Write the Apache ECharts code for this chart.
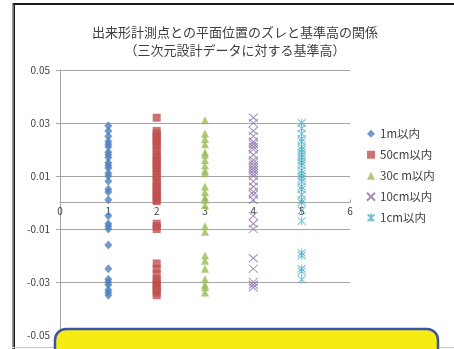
<!DOCTYPE html>
<html>
<head>
<meta charset="utf-8">
<script src="https://cdn.jsdelivr.net/npm/echarts@6/dist/echarts.min.js"></script>
<style>
html,body{margin:0;padding:0;background:#fff;}
#c{width:454px;height:349px;}
</style>
</head>
<body>
<div id="c"></div>
<script>
const titleLines = ['出来形計測点との平面位置のズレと基準高の関係', '（三次元設計データに対する基準高）'];
const seriesNames = ['1m以内', '50cm以内', '30c m以内', '10cm以内', '1cm以内'];
const seriesX = [1, 2, 3, 4, 5];
const values1m = [0.029, 0.027, 0.025, 0.023, 0.022, 0.021, 0.019, 0.018, 0.017, 0.015, 0.014, 0.013, 0.011, 0.010, 0.008, 0.005, 0.004, 0.001, -0.005, -0.008, -0.009, -0.010, -0.016, -0.025, -0.029, -0.030, -0.031, -0.033, -0.034, -0.035];
const values50cm = [0.032, 0.027, 0.026, 0.025, 0.024, 0.023, 0.022, 0.021, 0.0195, 0.018, 0.017, 0.016, 0.015, 0.014, 0.013, 0.012, 0.0105, 0.0095, 0.008, 0.007, 0.006, 0.005, 0.004, 0.003, 0.002, 0.001, 0.0005, -0.008, -0.009, -0.010, -0.023, -0.025, -0.027, -0.029, -0.030, -0.031, -0.032, -0.033, -0.034, -0.035];
const values30cm = [0.031, 0.026, 0.024, 0.022, 0.019, 0.018, 0.016, 0.014, 0.012, 0.011, 0.006, 0.004, 0.002, 0.001, -0.001, -0.009, -0.011, -0.020, -0.022, -0.025, -0.029, -0.031, -0.032, -0.034];
const values10cm = [0.032, 0.030, 0.027, 0.025, 0.023, 0.022, 0.021, 0.020, 0.018, 0.016, 0.015, 0.014, 0.013, 0.012, 0.011, 0.010, 0.008, 0.006, 0.004, 0.003, 0.001, -0.005, -0.008, -0.010, -0.021, -0.025, -0.030, -0.031, -0.032];
const values1cm = [0.030, 0.028, 0.026, 0.024, 0.023, 0.021, 0.020, 0.019, 0.018, 0.017, 0.016, 0.015, 0.014, 0.012, 0.011, 0.010, 0.009, 0.008, 0.006, 0.005, 0.003, 0.001, 0.0, -0.003, -0.007, -0.019, -0.020, -0.025, -0.026, -0.029];
const seriesValues = [values1m, values50cm, values30cm, values10cm, values1cm];

const FONT = '"Noto Sans CJK JP", "Noto Sans", sans-serif';
const colors = ['#4F81BD', '#C0504D', '#9BBB59', '#8064A2', '#4BACC6'];
const symbols = ['diamond', 'rect', 'triangle', 'path://M0,0L10,10M10,0L0,10', 'path://M0,0L10,10M10,0L0,10M5,-1L5,11'];
const sizes = [[8, 9], 8, 8, [9, 8], [8, 9]];

const series = seriesNames.map((name, i) => {
  const stroke = i >= 3;
  return {
    name: name,
    type: 'scatter',
    symbol: symbols[i],
    symbolSize: sizes[i],
    data: seriesValues[i].map(v => [seriesX[i], v]),
    itemStyle: stroke
      ? { color: 'rgba(0,0,0,0)', borderColor: colors[i], borderWidth: 1, opacity: 0.75 }
      : { color: colors[i] },
    emphasis: { disabled: true },
    z: 3
  };
});

const chart = echarts.init(document.getElementById('c'), null, { renderer: 'canvas' });
chart.setOption({
  animation: false,
  backgroundColor: '#ffffff',
  textStyle: { fontFamily: FONT },
  title: {
    text: titleLines.join('\n'),
    left: 230,
    top: 18,
    textAlign: 'center',
    textStyle: { fontFamily: FONT, fontSize: 13, fontWeight: 'normal', color: '#404040', lineHeight: 18 }
  },
  legend: {
    orient: 'vertical',
    left: 361,
    top: 123,
    itemWidth: 8,
    itemHeight: 8,
    itemGap: 9.5,
    textStyle: { fontFamily: FONT, fontSize: 11.5, color: '#404040' },
    data: seriesNames
  },
  grid: { left: 60, top: 70, width: 290, height: 265, containLabel: false },
  xAxis: {
    type: 'value',
    min: 0,
    max: 6,
    interval: 1,
    offset: -132.5,
    axisLine: { onZero: false, lineStyle: { color: '#A6A6A6', width: 1 } },
    axisTick: { show: true, inside: true, length: 3, lineStyle: { color: '#A6A6A6' } },
    axisLabel: { fontFamily: FONT, fontSize: 10, color: '#404040', margin: 4 },
    splitLine: { show: false },
    z: 2
  },
  yAxis: {
    type: 'value',
    min: -0.05,
    max: 0.05,
    interval: 0.02,
    axisLine: { show: true, lineStyle: { color: '#A6A6A6', width: 1 } },
    axisTick: { show: true, length: 4, lineStyle: { color: '#A6A6A6' } },
    axisLabel: { fontFamily: FONT, fontSize: 10, color: '#404040', margin: 10, formatter: v => v.toFixed(2) },
    splitLine: { show: true, lineStyle: { color: '#A6A6A6', width: 1 } }
  },
  series: series,
  graphic: [
    { type: 'rect', z: 100, shape: { x: 12, y: 3, width: 460, height: 2 }, style: { fill: '#1a1a1a' } },
    { type: 'rect', z: 100, shape: { x: 12, y: 3, width: 1.5, height: 360 }, style: { fill: '#9a9a9a' } },
    { type: 'rect', z: 100, shape: { x: 13.5, y: 3, width: 1.5, height: 360 }, style: { fill: '#1a1a1a' } },
    { type: 'rect', z: 100, shape: { x: 12, y: 347, width: 460, height: 1 }, style: { fill: '#c8c8c8' } },
    { type: 'rect', z: 110, shape: { x: 55, y: 329, width: 383, height: 50, r: 11 }, style: { fill: '#F6EC14', stroke: '#3A55A5', lineWidth: 2.5 } }
  ]
});
</script>
</body>
</html>
